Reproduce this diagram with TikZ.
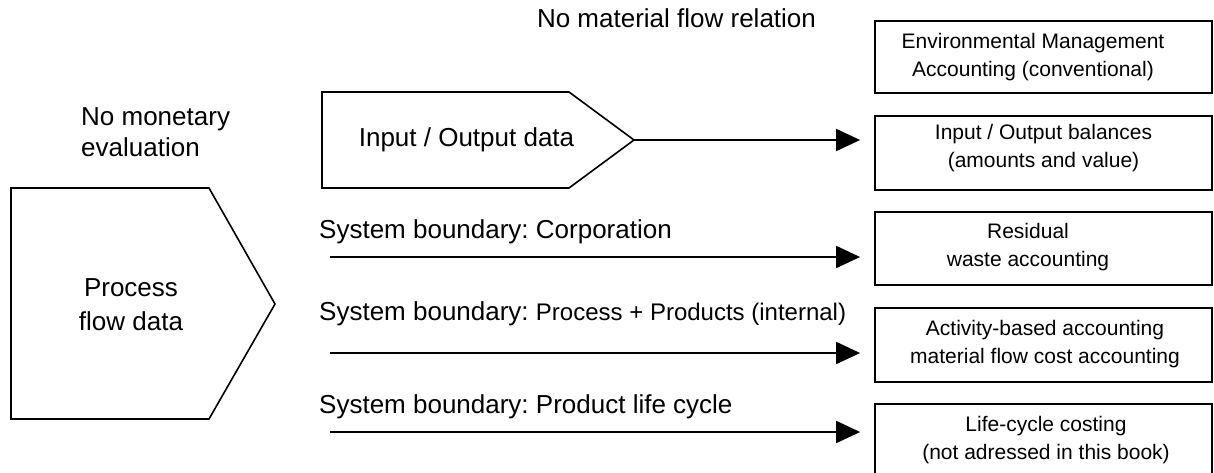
\documentclass[tikz,border=0pt]{standalone}
\usepackage{fontspec}
\setmainfont{Liberation Sans}
\usetikzlibrary{arrows.meta}
\frenchspacing
\begin{document}
\begin{tikzpicture}[x=1pt,y=-1pt,
  outline/.style={draw=black, line width=1.6pt, line join=miter},
  box/.style={draw=black, line width=1.8pt, minimum width=337pt, minimum height=73pt, inner sep=0pt},
  boxtxt/.style={align=center, font=\frenchspacing\fontsize{21}{28}\selectfont, inner sep=0pt},
  bigtxt/.style={font=\frenchspacing\fontsize{26}{31}\selectfont, inner sep=0pt},
  flow/.style={line width=2pt, -{Triangle[length=24pt,width=22pt]}},
]
\path[use as bounding box, clip] (0,0) rectangle (1214,473);

% data sources
\draw[outline] (11,188) -- (209,188) -- (275,304) -- (209,419) -- (11,419) -- cycle;
\node[bigtxt, align=center, font=\fontsize{26}{34}\selectfont] (pf) at (131,305) {Process\\flow data};
\draw[outline] (322,92) -- (569,92) -- (634,140) -- (569,188) -- (322,188) -- cycle;
\coordinate (iotip) at (634,140);
\node[bigtxt] (io) at (466.5,140) {Input / Output data};

% headings
\node[bigtxt] (title) at (676.5,18) {No material flow relation};
\node[bigtxt, align=left, anchor=west] (nomon) at (81,132.5) {No monetary\\evaluation};

% accounting methods
\node[box, minimum height=72pt] (b1) at (1043.5,57) {};
\node[boxtxt] (t1) at (1033,57) {Environmental Management\\Accounting (conventional)};
\node[box, minimum height=74pt] (b2) at (1043.5,153) {};
\node[boxtxt] (t2) at (1043.5,148) {Input / Output balances\\(amounts and value)};
\node[box] (b3) at (1043.5,248.5) {};
\node[boxtxt] (t3) at (1028,247) {Residual\\waste accounting};
\node[box, minimum height=74pt] (b4) at (1043.5,345) {};
\node[boxtxt] (t4) at (1045,344) {Activity-based accounting\\material flow cost accounting};
\node[box] (b5) at (1043.5,440.5) {};
\node[boxtxt] (t5) at (1046,440) {Life-cycle costing\\(not adressed in this book)};

% system boundaries
\node[bigtxt, anchor=west] (l1) at (319,232) {System boundary: Corporation};
\node[bigtxt, anchor=west] (l2) at (319,314) {System boundary: {\fontsize{24}{29}\selectfont Process + Products (internal)}};
\node[bigtxt, anchor=west] (l3) at (319,407) {System boundary: Product life cycle};
\coordinate (s1) at (330,257);
\coordinate (s2) at (330,353);
\coordinate (s3) at (330,432);

% connectors
\draw[flow] (iotip) -- ([xshift=-14pt]iotip -| b2.west);
\draw[flow] (s1) -- ([xshift=-14pt]s1 -| b3.west);
\draw[flow] (s2) -- ([xshift=-14pt]s2 -| b4.west);
\draw[flow] (s3) -- ([xshift=-14pt]s3 -| b5.west);
\end{tikzpicture}
\end{document}
